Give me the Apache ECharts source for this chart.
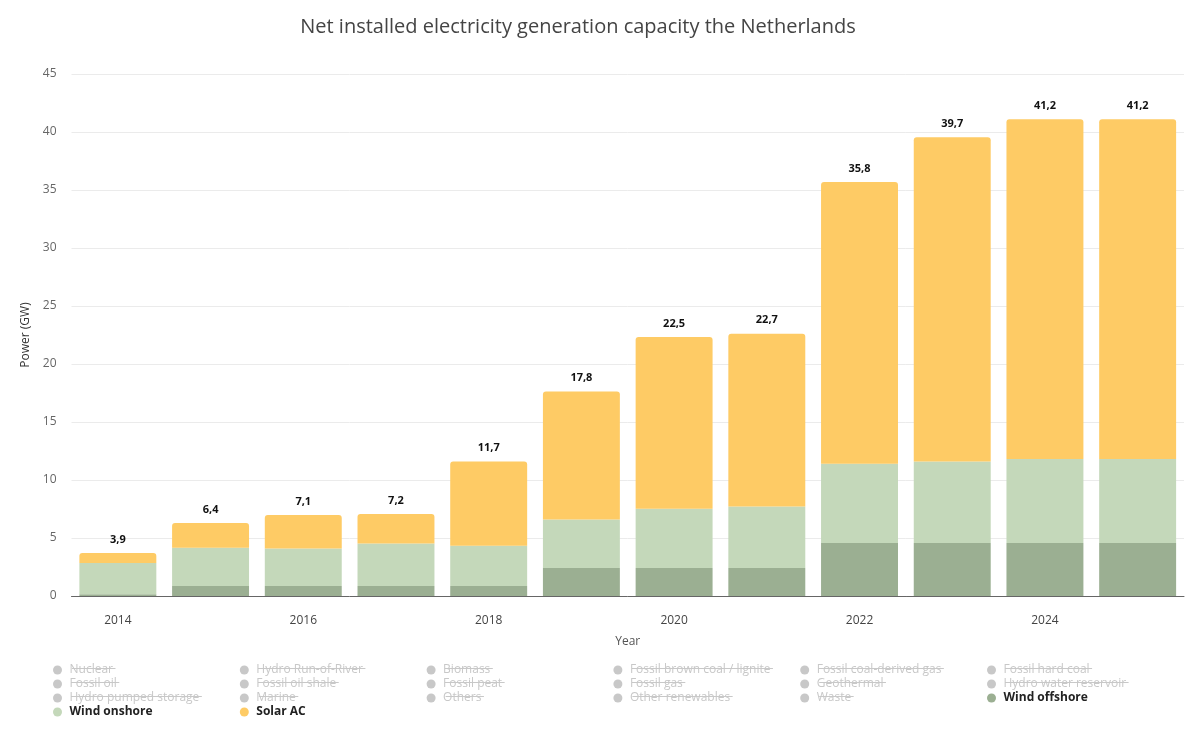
<!DOCTYPE html>
<html>
<head>
<meta charset="utf-8">
<script src="https://cdn.jsdelivr.net/npm/echarts@6/dist/echarts.min.js"></script>
<style>
  html, body { margin: 0; padding: 0; background: #fff; }
  #chart { width: 1200px; height: 732px; }
</style>
</head>
<body>
<div id="chart"></div>
<script>
var years = ['2014','2015','2016','2017','2018','2019','2020','2021','2022','2023','2024','2025'];
// GW per source
var windOffshore = [0.15, 0.86, 0.86, 0.86, 0.86, 2.41, 2.41, 2.41, 4.57, 4.57, 4.57, 4.57];
var windOnshore  = [2.69, 3.31, 3.23, 3.66, 3.48, 4.18, 5.12, 5.30, 6.84, 7.02, 7.24, 7.24];
var solarAC      = [0.87, 2.12, 2.89, 2.55, 7.25, 11.05, 14.80, 14.90, 24.28, 27.95, 29.28, 29.28];
// totals printed above the bars
var totals = [3.9, 6.4, 7.1, 7.2, 11.7, 17.8, 22.5, 22.7, 35.8, 39.7, 41.2, 41.2];

// legend columns as in the original (row by row, 6 columns)
var legendCols = [
	['Nuclear', 'Fossil oil', 'Hydro pumped storage', 'Wind onshore'],
	['Hydro Run-of-River', 'Fossil oil shale', 'Marine', 'Solar AC'],
	['Biomass', 'Fossil peat', 'Others'],
	['Fossil brown coal / lignite', 'Fossil gas', 'Other renewables'],
	['Fossil coal-derived gas', 'Geothermal', 'Waste'],
	['Fossil hard coal', 'Hydro water reservoir', 'Wind offshore']
];
var shown = ['Wind offshore', 'Wind onshore', 'Solar AC'];

var FONT = '"Open Sans", "Noto Sans", sans-serif';
var colors = {'Wind offshore':'#9BAF92', 'Wind onshore':'#C4D8BA', 'Solar AC':'#FECB65'};

var chart = echarts.init(document.getElementById('chart'), null, {renderer:'canvas'});

var selected = {};
var series = [];
legendCols.forEach(function(col){
	col.forEach(function(name){
		selected[name] = shown.indexOf(name) >= 0;
		if(shown.indexOf(name) < 0){
			series.push({name:name, type:'bar', stack:'total', data:[], itemStyle:{color:'#ccc'}});
		}
	});
});

series.push({
	name:'Wind offshore', type:'bar', stack:'total', barCategoryGap:'17%',
	data:windOffshore, itemStyle:{color:colors['Wind offshore']}
});
series.push({
	name:'Wind onshore', type:'bar', stack:'total',
	data:windOnshore, itemStyle:{color:colors['Wind onshore']}
});
series.push({
	name:'Solar AC', type:'bar', stack:'total',
	data:solarAC, itemStyle:{color:colors['Solar AC'], borderRadius:[3,3,0,0]},
	label:{
		show:true, position:'top', distance:8,
		fontFamily:FONT, fontSize:11, fontWeight:'bold', color:'#111',
		formatter:function(p){ return totals[p.dataIndex].toFixed(1).replace('.', ','); }
	}
});

// legend layout
var legX0 = 53, legDx = 186.8, legY0 = 664, rowH = 14;
var legends = legendCols.map(function(col, i){
	return {
		orient:'vertical', left:legX0 + i*legDx, top:legY0, padding:0,
		icon:'circle', itemWidth:14, itemHeight:9, itemGap:rowH - 12,
		inactiveColor:'#c8c8c8', selectedMode:false, selected:selected,
		textStyle:{fontFamily:FONT, fontSize:12, color:'#222', fontWeight:'bold', lineHeight:12},
		data:col.map(function(name){
			return shown.indexOf(name) >= 0 ? {name:name} : {name:name, textStyle:{fontWeight:'normal'}};
		})
	};
});

// strike-through on the hidden entries
var cvs = document.createElement('canvas').getContext('2d');
cvs.font = '12px ' + FONT;
var strikes = [];
legendCols.forEach(function(col, i){
	col.forEach(function(name, r){
		if(shown.indexOf(name) >= 0) return;
		var x = legX0 + i*legDx + 19;
		var y = legY0 + r*rowH + 4.5;
		strikes.push({
			type:'line', silent:true, z:100,
			shape:{x1:x, y1:y, x2:x + cvs.measureText(name).width, y2:y},
			style:{stroke:'#c8c8c8', lineWidth:1}
		});
	});
});

var option = {
	animation:false,
	title:{
		text:'Net installed electricity generation capacity the Netherlands',
		left:573, top:12, textAlign:'center',
		textStyle:{fontFamily:FONT, fontSize:20, fontWeight:'normal', color:'#444'}
	},
	grid:{left:71.5, right:16, top:74, bottom:136},
	legend:legends,
	graphic:strikes,
	xAxis:{
		type:'category', data:years,
		name:'Year', nameLocation:'middle', nameGap:40,
		nameTextStyle:{fontFamily:FONT, fontSize:12, color:'#555'},
		axisLine:{lineStyle:{color:'#666'}},
		axisTick:{show:false},
		axisLabel:{interval:1, margin:19, fontFamily:FONT, fontSize:12, color:'#444'}
	},
	yAxis:{
		type:'value', min:0, max:45, interval:5,
		name:'Power (GW)', nameLocation:'middle', nameGap:36,
		nameTextStyle:{fontFamily:FONT, fontSize:12, color:'#333'},
		axisLine:{show:false}, axisTick:{show:false},
		axisLabel:{margin:15, fontFamily:FONT, fontSize:12, color:'#666'},
		splitLine:{lineStyle:{color:'#ebebeb'}}
	},
	series:series
};
chart.setOption(option);
</script>
</body>
</html>
